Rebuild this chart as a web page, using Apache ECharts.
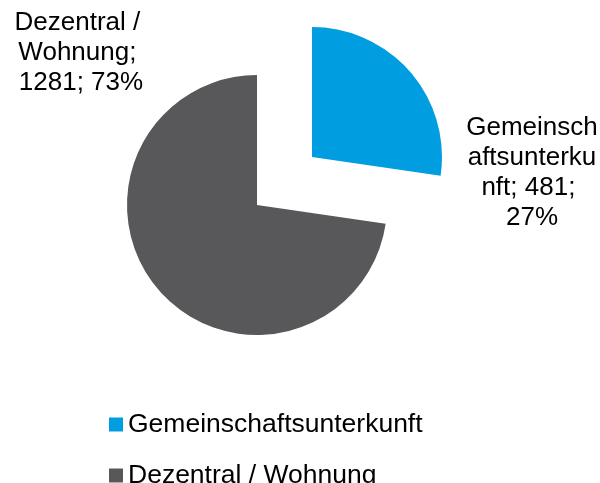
<!DOCTYPE html>
<html>
<head>
<meta charset="utf-8">
<script src="https://cdn.jsdelivr.net/npm/echarts@6/dist/echarts.min.js"></script>
<style>
html,body{margin:0;padding:0;background:#fff;}
#chart{width:600px;height:483px;}
</style>
</head>
<body>
<div id="chart"></div>
<script>
var categories = ['Gemeinschaftsunterkunft', 'Dezentral / Wohnung'];
var values = [481, 1281];
var colors = ['#009EE0', '#58585A'];
var FONT = '"Liberation Sans", Arial, sans-serif';

// pie geometry (layout only): base centre, exploded centre of the first slice
var baseCenter = [257, 205];
var explodedCenter = [312, 157];
var labelPos = [[532, 173], [81, 53]];

var chart = echarts.init(document.getElementById('chart'), null, {renderer: 'canvas'});

function makeSeries(showIndex, center) {
  return {
    type: 'pie',
    center: center,
    radius: [0, 130],
    startAngle: 90,
    clockwise: true,
    percentPrecision: 0,
    avoidLabelOverlap: false,
    emphasis: { disabled: true },
    label: {
      show: true,
      position: 'outside',
      formatter: '{b}; {c}; {d}%',
      fontFamily: FONT,
      fontSize: 26,
      lineHeight: 30,
      color: '#000',
      width: 138,
      overflow: 'break',
      align: 'center'
    },
    labelLine: { show: false },
    labelLayout: function (params) {
      var p = labelPos[params.dataIndex];
      return { x: p[0], y: p[1], align: 'center', verticalAlign: 'middle' };
    },
    data: categories.map(function (c, i) {
      var shown = i === showIndex;
      return {
        name: c,
        value: values[i],
        itemStyle: { color: shown ? colors[i] : 'rgba(0,0,0,0)' },
        label: { show: shown }
      };
    })
  };
}

chart.setOption({
  animation: false,
  legend: {
    orient: 'vertical',
    left: 109,
    top: 411,
    height: 100,
    padding: 0,
    icon: 'rect',
    itemWidth: 14,
    itemHeight: 14,
    itemGap: 24,
    selectedMode: false,
    textStyle: { fontFamily: FONT, fontSize: 26.5, color: '#000', lineHeight: 26 },
    data: categories.map(function (c, i) {
      return { name: c, itemStyle: { color: colors[i] } };
    })
  },
  series: [
    makeSeries(0, explodedCenter),
    makeSeries(1, baseCenter)
  ]
});
</script>
</body>
</html>
